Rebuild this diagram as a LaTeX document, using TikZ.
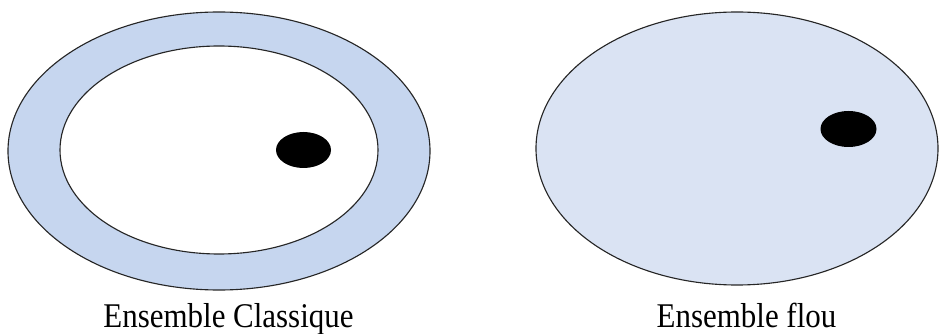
\documentclass[tikz,border=0pt]{standalone}
\usepackage{fontspec}
\setmainfont{Liberation Serif}
\usepackage{graphicx}
\usepackage{xcolor}
\usepackage{tikz}
\definecolor{ringblue}{HTML}{C6D6EF}
\definecolor{fuzzyblue}{HTML}{DAE3F3}
\newcommand{\tallcap}[1]{\scalebox{1}[1.12]{#1}}

\begin{document}
\begin{tikzpicture}[
    x=0.025cm, y=-0.025cm,
    setline/.style={draw=black!85, line width=0.8pt},
    element/.style={fill=black},
    caption/.style={font=\fontsize{22}{26}\selectfont, anchor=base},
]
    \useasboundingbox (0,0) rectangle (942,334);

    % Classical set
    \draw[setline, fill=ringblue] (219,151) ellipse [x radius=211, y radius=139];
    \draw[setline, fill=white] (219,150) ellipse [x radius=159, y radius=104];
    \fill[element] (303.5,150) ellipse [x radius=27.5, y radius=18];
    \node[caption] (classique) at (228.5,327) {\tallcap{Ensemble Classique}};

    % Fuzzy set
    \draw[setline, fill=fuzzyblue] (737,148.5) ellipse [x radius=201, y radius=136.5];
    \fill[element] (848.5,129) ellipse [x radius=28, y radius=18];
    \node[caption] (flou) at (746.5,327) {\tallcap{Ensemble flou}};

\end{tikzpicture}
\end{document}
